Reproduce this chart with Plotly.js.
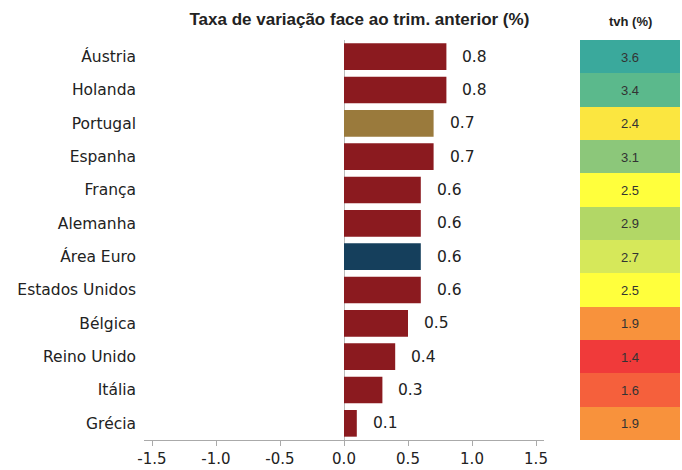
<!DOCTYPE html>
<html>
<head>
<meta charset="utf-8">
<script src="https://cdn.plot.ly/plotly-3.0.1.min.js"></script>
<style>html,body{margin:0;padding:0;background:#fff;}#chart{width:682px;height:470px;}</style>
</head>
<body>
<div id="chart"></div>
<script>
const countries = ["Áustria","Holanda","Portugal","Espanha","França","Alemanha","Área Euro","Estados Unidos","Bélgica","Reino Unido","Itália","Grécia"];
const qoq = [0.8,0.8,0.7,0.7,0.6,0.6,0.6,0.6,0.5,0.4,0.3,0.1];
const tvh = [3.6,3.4,2.4,3.1,2.5,2.9,2.7,2.5,1.9,1.4,1.6,1.9];
const xTicks = [-1.5,-1.0,-0.5,0.0,0.5,1.0,1.5];
const xTickLabels = ["-1.5","-1.0","-0.5","0.0","0.5","1.0","1.5"];

const barColors = countries.map(c => c === "Portugal" ? "#9a7a3c" : (c === "Área Euro" ? "#153f5c" : "#8b1a1f"));
const labelFont = "DejaVu Sans, Verdana, sans-serif";

const bars = {
  type: "bar", orientation: "h",
  x: qoq, y: countries,
  marker: {color: barColors, line: {width: 0}},
  width: 0.8,
  hoverinfo: "none",
  xaxis: "x", yaxis: "y"
};

const heat = {
  type: "heatmap",
  x: ["tvh"], y: countries,
  z: tvh.map(v => [v]),
  zmin: 1.4, zmax: 3.6,
  colorscale: [
    [0, "#f03a3a"], [0.091, "#f5603c"], [0.227, "#f8923c"], [0.4545, "#fbe640"],
    [0.5, "#ffff3c"], [0.591, "#d6e85a"], [0.682, "#b2d766"], [0.773, "#8cc77a"],
    [0.909, "#5bb98c"], [1, "#3aa99c"]
  ],
  showscale: false,
  texttemplate: "%{z:.1f}",
  textfont: {family: "Liberation Sans Narrow, Arial Narrow, Liberation Sans, sans-serif", size: 13, color: "#333"},
  hoverinfo: "none",
  xaxis: "x2", yaxis: "y"
};

const annotations = qoq.map((v, i) => ({
  x: v, y: countries[i], xref: "x", yref: "y",
  text: v.toFixed(1), showarrow: false, xanchor: "left", xshift: 14,
  font: {family: labelFont, size: 15.5, color: "#222"}
}));
annotations.push({
  x: 0.5, y: 1, xref: "x2 domain", yref: "paper", yanchor: "bottom", yshift: 9,
  text: "<b>tvh (%)</b>", showarrow: false,
  font: {family: "Liberation Sans Narrow, Arial Narrow, sans-serif", size: 13, color: "#222"}
});

const layout = {
  width: 682, height: 470,
  margin: {l: 144, r: 2, t: 40, b: 30},
  paper_bgcolor: "#fff", plot_bgcolor: "#fff",
  showlegend: false,
  title: {
    text: "<b>Taxa de variação face ao trim. anterior (%)</b>",
    font: {family: "Liberation Sans Narrow, Arial Narrow, sans-serif", size: 17, color: "#222"},
    x: 0.527, xanchor: "center", y: 0.96, yanchor: "middle"
  },
  xaxis: {
    domain: [0, 400/536],
    range: [-1.5625, 1.5625],
    tickvals: xTicks, ticktext: xTickLabels,
    showgrid: false, zeroline: true, zerolinecolor: "#bbb", zerolinewidth: 1,
    showline: true, linecolor: "#aaa", linewidth: 1,
    ticks: "outside", ticklen: 5, tickcolor: "#aaa",
    tickfont: {family: labelFont, size: 15, color: "#222"},
    fixedrange: true
  },
  xaxis2: {
    domain: [436/536, 1], showticklabels: false, showgrid: false, zeroline: false, showline: false, ticks: ""
  },
  yaxis: {
    type: "category", categoryorder: "array", categoryarray: countries,
    autorange: "reversed",
    showgrid: false, zeroline: false, showline: false, ticks: "",
    ticklabelstandoff: 7,
    tickfont: {family: labelFont, size: 15.5, color: "#222"}
  },
  annotations: annotations
};

Plotly.newPlot("chart", [bars, heat], layout, {displayModeBar: false, staticPlot: true});
</script>
</body>
</html>
